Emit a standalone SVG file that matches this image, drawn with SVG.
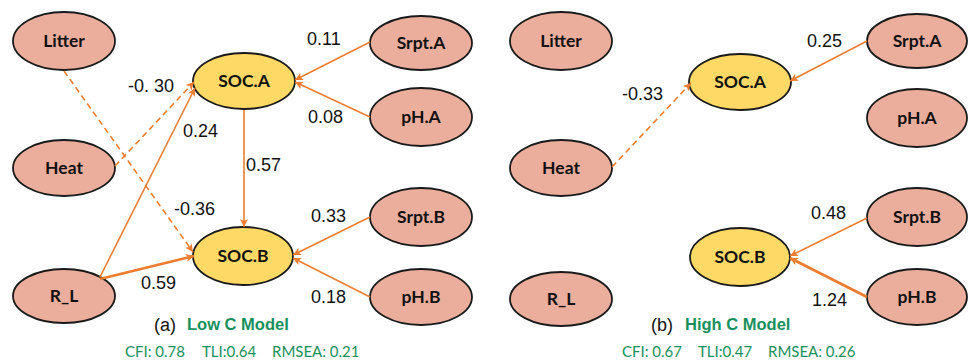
<svg xmlns="http://www.w3.org/2000/svg" width="969" height="363" viewBox="0 0 969 363">
<style>
.n{fill:#EBAE9C;stroke:#1a1a1a;stroke-width:1.8}
.s{fill:#FFD966;stroke:#1a1a1a;stroke-width:1.8}
.lb{font-family:Lato,"Open Sans",sans-serif;font-weight:bold;font-size:17.5px;fill:#111;text-anchor:middle}
.c{stroke:#ED7D31;stroke-width:1.6;fill:none;marker-end:url(#ah)}
.d{stroke-dasharray:6 4}
.t{stroke-width:2.8}
.num{font-family:"Liberation Sans",Arial,sans-serif;font-size:18px;fill:#111}
.cap{font-family:"Liberation Sans",Arial,sans-serif;font-size:18px;fill:#111}
.gt{font-family:"Liberation Sans",Arial,sans-serif;font-size:16.5px;font-weight:bold;fill:#17905E}
.st{font-family:Lato,"Open Sans",sans-serif;font-size:15px;fill:#17905E}
</style>
<defs>
<marker id="ah" viewBox="0 0 10 10" refX="10" refY="5" markerWidth="9" markerHeight="8" orient="auto" markerUnits="userSpaceOnUse"><path d="M0,0 L10,5 L0,10 L2.5,5 z" fill="#ED7D31"/></marker>
</defs>
<rect width="969" height="363" fill="#fff"/>
<g id="a-litter"><ellipse class="n" cx="64" cy="41" rx="51" ry="29"/><text class="lb" x="64" y="47">Litter</text></g>
<g id="a-heat"><ellipse class="n" cx="64" cy="168" rx="51" ry="28"/><text class="lb" x="64" y="174">Heat</text></g>
<g id="a-rl"><ellipse class="n" cx="64" cy="296" rx="51" ry="27"/><text class="lb" x="64" y="302">R_L</text></g>
<g id="a-soca"><ellipse class="s" cx="244" cy="81" rx="51" ry="28"/><text class="lb" x="244" y="87">SOC.A</text></g>
<g id="a-socb"><ellipse class="s" cx="243" cy="256" rx="50" ry="29"/><text class="lb" x="243" y="262">SOC.B</text></g>
<g id="a-srpta"><ellipse class="n" cx="421" cy="43" rx="51" ry="27"/><text class="lb" x="421" y="49">Srpt.A</text></g>
<g id="a-pha"><ellipse class="n" cx="421" cy="117" rx="51" ry="29"/><text class="lb" x="421" y="123">pH.A</text></g>
<g id="a-srptb"><ellipse class="n" cx="421" cy="217" rx="51" ry="29"/><text class="lb" x="421" y="223">Srpt.B</text></g>
<g id="a-phb"><ellipse class="n" cx="421" cy="297" rx="51" ry="28"/><text class="lb" x="421" y="303">pH.B</text></g>
<g id="b-litter"><ellipse class="n" cx="561" cy="41" rx="51" ry="29"/><text class="lb" x="561" y="47">Litter</text></g>
<g id="b-heat"><ellipse class="n" cx="561" cy="168" rx="51" ry="28"/><text class="lb" x="561" y="174">Heat</text></g>
<g id="b-rl"><ellipse class="n" cx="561" cy="299" rx="51" ry="27"/><text class="lb" x="561" y="305">R_L</text></g>
<g id="b-soca"><ellipse class="s" cx="740" cy="82" rx="51" ry="28"/><text class="lb" x="740" y="88">SOC.A</text></g>
<g id="b-socb"><ellipse class="s" cx="740" cy="257" rx="50" ry="29"/><text class="lb" x="740" y="263">SOC.B</text></g>
<g id="b-srpta"><ellipse class="n" cx="917" cy="41" rx="50" ry="27"/><text class="lb" x="917" y="47">Srpt.A</text></g>
<g id="b-pha"><ellipse class="n" cx="917" cy="118" rx="50" ry="29"/><text class="lb" x="917" y="124">pH.A</text></g>
<g id="b-srptb"><ellipse class="n" cx="917" cy="217" rx="50" ry="29"/><text class="lb" x="917" y="223">Srpt.B</text></g>
<g id="b-phb"><ellipse class="n" cx="917" cy="297" rx="50" ry="28"/><text class="lb" x="917" y="303">pH.B</text></g>
<g id="connectors">
<line class="c d" x1="64" y1="71" x2="193" y2="252"/>
<line class="c d" x1="115" y1="166" x2="194" y2="82"/>
<line class="c" x1="100" y1="277" x2="195" y2="88"/>
<line class="c t" x1="100" y1="279" x2="194" y2="256"/>
<line class="c" x1="244" y1="110" x2="244" y2="227"/>
<line class="c" x1="370" y1="42" x2="295" y2="80"/>
<line class="c" x1="370" y1="117" x2="295" y2="82"/>
<line class="c" x1="370" y1="217" x2="293" y2="255"/>
<line class="c" x1="370" y1="297" x2="293" y2="258"/>
<line class="c d" x1="612" y1="167" x2="691" y2="83"/>
<line class="c" x1="867" y1="41" x2="790" y2="81"/>
<line class="c" x1="867" y1="218" x2="790" y2="256"/>
<line class="c t" x1="867" y1="297" x2="790" y2="258"/>
</g>
<g id="labels">
<text class="num" x="128" y="92">-0. 30</text>
<text class="num" x="183" y="137">0.24</text>
<text class="num" x="246" y="171">0.57</text>
<text class="num" x="174" y="215">-0.36</text>
<text class="num" x="141" y="289">0.59</text>
<text class="num" x="307" y="45">0.11</text>
<text class="num" x="308" y="123">0.08</text>
<text class="num" x="311" y="222">0.33</text>
<text class="num" x="311" y="303">0.18</text>
<text class="num" x="807" y="47">0.25</text>
<text class="num" x="622" y="100">-0.33</text>
<text class="num" x="811" y="219">0.48</text>
<text class="num" x="812" y="306">1.24</text>
<text class="cap" x="154" y="331">(a)</text>
<text class="gt" x="187" y="330">Low C Model</text>
<text class="cap" x="651" y="331">(b)</text>
<text class="gt" x="685" y="330">High C Model</text>
<text class="st" y="357"><tspan x="125">CFI: 0.78</tspan><tspan x="202">TLI:0.64</tspan><tspan x="272">RMSEA: 0.21</tspan></text>
<text class="st" y="357"><tspan x="622">CFI: 0.67</tspan><tspan x="698">TLI:0.47</tspan><tspan x="768">RMSEA: 0.26</tspan></text>
</g>
</svg>
